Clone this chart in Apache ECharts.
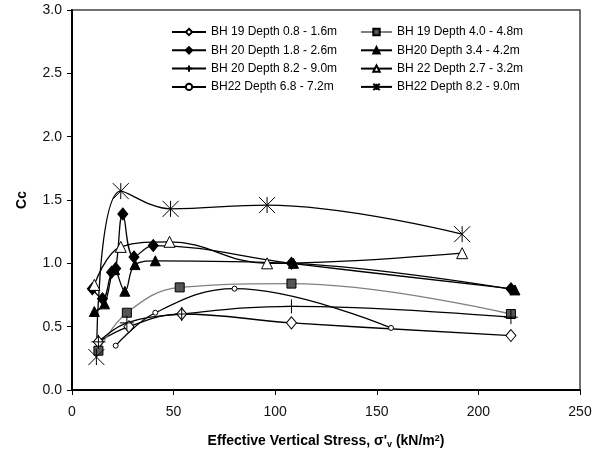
<!DOCTYPE html>
<html>
<head>
<meta charset="utf-8">
<script src="https://cdn.jsdelivr.net/npm/echarts@6/dist/echarts.min.js"></script>
<style>
  html, body { margin: 0; padding: 0; background: #fff; }
  #chart { width: 604px; height: 454px; }
</style>
</head>
<body>
<div id="chart"></div>
<script>
// series names as in the legend
const seriesNames = [
  'BH 19 Depth 0.8 - 1.6m',
  'BH 19 Depth 4.0 - 4.8m',
  'BH 20 Depth 1.8 - 2.6m',
  'BH20 Depth 3.4 - 4.2m',
  'BH 20 Depth 8.2 - 9.0m',
  'BH 22 Depth 2.7 - 3.2m',
  'BH22 Depth 6.8 - 7.2m',
  'BH22 Depth 8.2 - 9.0m'
];

// [effective vertical stress, Cc]
const bh19a = [[13, 0.38], [28, 0.5], [54, 0.6], [108, 0.53], [216, 0.43]];
const bh19b = [[13, 0.31], [27, 0.61], [53, 0.81], [108, 0.84], [216, 0.6]];
const bh20a = [[10, 0.8], [15, 0.72], [19.5, 0.93], [21.5, 0.96], [25, 1.39], [30.5, 1.05], [40, 1.14], [108, 1.0], [216, 0.8]];
const bh20b = [[11, 0.62], [16, 0.68], [21, 0.95], [26, 0.78], [31, 0.99], [41, 1.02], [109, 1.0], [218, 0.79]];
const bh20c = [[13, 0.38], [27, 0.53], [54, 0.6], [108, 0.66], [216, 0.575]];
const bh22a = [[11, 0.83], [24, 1.13], [48, 1.17], [96, 1.0], [192, 1.08]];
const bh22b = [[21.5, 0.35], [41, 0.61], [80, 0.8], [157, 0.49]];
const bh22c = [[12, 0.26], [24, 1.57], [48.5, 1.43], [96, 1.46], [192, 1.23]];

const xTicks = [0, 50, 100, 150, 200, 250];
const yTicks = [0, 0.5, 1.0, 1.5, 2.0, 2.5, 3.0];

const plusPath = 'path://M0,7L14,7M7,0L7,14';
const starPath = 'path://M0,0L10,10M10,0L0,10M5,0L5,10';

function line(name, data, symbol, size, fill, lineColor) {
  return {
    name: name,
    type: 'line',
    data: data,
    smooth: 0.4,
    symbol: symbol,
    symbolSize: size,
    showAllSymbol: true,
    z: 3,
    itemStyle: { color: fill, borderColor: '#000', borderWidth: 1, opacity: 1 },
    lineStyle: { color: lineColor || '#000', width: 1.3 },
    emphasis: { disabled: true }
  };
}

const legendText = { fontFamily: 'Liberation Sans', fontSize: 12, color: '#000' };

const chart = echarts.init(document.getElementById('chart'));
chart.setOption({
  animation: false,
  textStyle: { fontFamily: 'Liberation Sans' },
  grid: {
    left: 72, right: 24, top: 10, bottom: 64,
    show: true, borderColor: '#444', borderWidth: 1.5, backgroundColor: '#fff'
  },
  legend: [
    {
      orient: 'vertical', left: 171, top: 26, padding: 0,
      itemWidth: 34, itemHeight: 8, itemGap: 6.3,
      textStyle: legendText,
      data: [seriesNames[0], seriesNames[2], seriesNames[4], seriesNames[6]]
    },
    {
      orient: 'vertical', left: 360, top: 26, padding: 0,
      itemWidth: 31, itemHeight: 8, itemGap: 6.3,
      textStyle: legendText,
      data: [seriesNames[1], seriesNames[3], seriesNames[5], seriesNames[7]]
    }
  ],
  xAxis: {
    type: 'value',
    min: xTicks[0], max: xTicks[xTicks.length - 1], interval: 50,
    name: '{a|Effective Vertical Stress, σ\'}{sub|v}{a| (kN/m}{sup|2}{a|)}',
    nameLocation: 'middle',
    nameGap: 44,
    nameTextStyle: {
      rich: {
        a: { fontFamily: 'Liberation Sans', fontWeight: 'bold', fontSize: 14, color: '#000' },
        sub: { fontFamily: 'Liberation Sans', fontWeight: 'bold', fontSize: 9, color: '#000', verticalAlign: 'bottom', padding: [6, 0, 0, 0] },
        sup: { fontFamily: 'Liberation Sans', fontWeight: 'bold', fontSize: 9, color: '#000', verticalAlign: 'top', padding: [0, 0, 6, 0] }
      }
    },
    axisLine: { lineStyle: { color: '#000', width: 2 } },
    axisTick: { length: 5, lineStyle: { color: '#000', width: 1 } },
    axisLabel: { fontSize: 14, color: '#111', margin: 15 },
    splitLine: { show: false }
  },
  yAxis: {
    type: 'value',
    min: yTicks[0], max: yTicks[yTicks.length - 1], interval: 0.5,
    name: 'Cc',
    nameLocation: 'middle',
    nameGap: 43,
    nameTextStyle: { fontFamily: 'Liberation Sans', fontWeight: 'bold', fontSize: 14, color: '#000' },
    axisLine: { show: true, lineStyle: { color: '#000', width: 2 } },
    axisTick: { show: true, length: 5, lineStyle: { color: '#000', width: 1 } },
    axisLabel: { fontSize: 14, color: '#111', margin: 10, formatter: function (v) { return v.toFixed(1); } },
    splitLine: { show: false }
  },
  series: [
    line(seriesNames[0], bh19a, 'diamond', [10, 12], '#fff'),
    line(seriesNames[1], bh19b, 'rect', 9, '#555', '#808080'),
    line(seriesNames[2], bh20a, 'diamond', [10, 12], '#000'),
    line(seriesNames[3], bh20b, 'triangle', 10, '#000'),
    line(seriesNames[4], bh20c, plusPath, 14, 'none'),
    line(seriesNames[5], bh22a, 'triangle', 11, '#fff'),
    line(seriesNames[6], bh22b, 'circle', 5, '#fff'),
    line(seriesNames[7], bh22c, starPath, 16, 'none')
  ]
});
</script>
</body>
</html>
